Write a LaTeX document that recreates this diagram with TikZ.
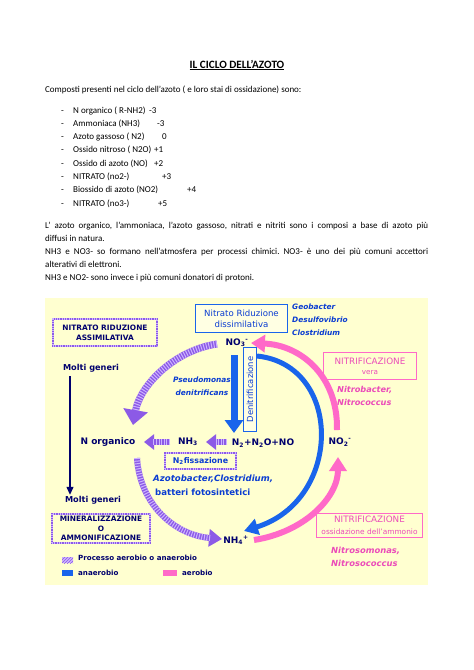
\documentclass[tikz,border=0pt]{standalone}
\usepackage{fontspec}
\setmainfont{Carlito}
\newfontfamily\dg{DejaVu Sans}
\usetikzlibrary{arrows.meta,patterns}
\frenchspacing
\definecolor{bgy}{RGB}{255,255,208}
\definecolor{purp}{RGB}{140,90,230}
\definecolor{lav}{RGB}{205,180,255}
\definecolor{barr}{RGB}{25,100,235}
\definecolor{btxt}{RGB}{10,60,210}
\definecolor{pinkA}{RGB}{255,105,200}
\definecolor{pinkT}{RGB}{235,75,185}
\definecolor{navyT}{RGB}{0,0,110}
\newcommand\fsz[2]{\fontsize{#1}{#2}\selectfont}
\tikzset{
  body/.style={font=\fsz{9}{13.3}, anchor=base west, inner sep=0pt},
  chem/.style={font=\dg\bfseries\fsz{9}{10}, text=navyT, inner sep=1pt},
  hbox/.style={draw=purp, line width=2.8pt, postaction={draw=lav, line width=2.8pt, dash pattern=on 0.9pt off 1.4pt},
    font=\dg\bfseries\fsz{7.4}{10}, text=navyT, align=center, inner sep=0pt},
  bbox/.style={draw=barr, line width=1.6pt, font=\dg\fsz{8.6}{11}, text=btxt, align=center, inner sep=0pt, fill=white!40!bgy},
  pbox/.style={draw=pinkA, line width=1.6pt, font=\dg\fsz{8.8}{10}, text=pinkT, align=center, inner sep=0pt},
  itl/.style={font=\dg\bfseries\itshape\fsz{7.4}{13}, align=left, inner sep=0pt},
  leg/.style={font=\dg\bfseries\fsz{7.1}{8}, text=navyT, anchor=west, inner sep=0pt},
  parr/.style={purp, line width=#1},
  pstripe/.style={lav, line width=#1, dash pattern=on 1pt off 1.6pt},
}
\begin{document}
\begin{tikzpicture}[x=1pt,y=-1pt]
\useasboundingbox (0,0) rectangle (474,670);
\fill[white] (0,0) rectangle (474,670);

% ---------- text part ----------
\node[font=\bfseries\fsz{11.2}{13}, inner sep=0pt] (title) at (237,65) {\underline{IL CICLO DELL’AZOTO}};
\node[body] (intro) at (45,92) {Composti presenti nel ciclo dell’azoto ( e loro stai di ossidazione) sono:};

\foreach \i/\t/\vx/\v in {0/N organico ( R-NH2)/149/-3, 1/Ammoniaca (NH3)/157/-3, 2/Azoto gassoso ( N2)/162/0,
  3/Ossido nitroso ( N2O)/154/+1, 4/Ossido di azoto (NO)/154/+2, 5/NITRATO (no2-)/162/+3,
  6/Biossido di azoto (NO2)/187/+4, 7/NITRATO (no3-)/158/+5}{
  \node[body] (d\i) at (61,113+13.3*\i) {-};
  \node[body] (t\i) at (73,113+13.3*\i) {\t};
  \node[body] (v\i) at (\vx,113+13.3*\i) {\v};
}

\node[body] (p1) at (45,228) {\makebox[383pt][s]{L’ azoto organico, l’ammoniaca, l’azoto gassoso, nitrati e nitriti sono i composi a base di azoto più}};
\node[body] (p2) at (45,241.2) {diffusi in natura.};
\node[body] (p3) at (45,254.4) {\makebox[383pt][s]{NH3 e NO3- so formano nell’atmosfera per processi chimici. NO3- è uno dei più comuni accettori}};
\node[body] (p4) at (45,267.6) {alterativi di elettroni.};
\node[body] (p5) at (45,280.8) {NH3 e NO2- sono invece i più comuni donatori di protoni.};

% ---------- diagram ----------
\fill[bgy] (45,298) rectangle (428,585);

% boxes
\node[hbox, minimum width=104pt, minimum height=27pt] (assim) at (105,332.5) {NITRATO RIDUZIONE\\ASSIMILATIVA};
\node[hbox, minimum width=98pt, minimum height=29pt, font=\dg\bfseries\fsz{7.4}{9.4}] (miner) at (101,528.5) {MINERALIZZAZIONE\\O\\AMMONIFICAZIONE};
\node[hbox, minimum width=71pt, minimum height=16pt, font=\dg\bfseries\fsz{7.9}{9}, text=btxt] (nfix) at (200.5,461) {N\textsubscript{2}fissazione};
\node[bbox, minimum width=92pt, minimum height=28pt] (dissim) at (241.5,318.5) {Nitrato Riduzione\\dissimilativa};
\node[bbox, minimum width=84pt, minimum height=13pt, rotate=90, font=\dg\fsz{8.4}{9}] (denit) at (250,389.5) {Denitrificazione};
\node[pbox, minimum width=93pt, minimum height=27pt] (nitvera) at (370,366) {NITRIFICAZIONE\\{\fsz{7.2}{8}vera}};
\node[pbox, minimum width=106pt, minimum height=24pt, font=\dg\fsz{7.4}{11.5}] (nitamm) at (369.5,525.5) {{\fsz{8.8}{10}NITRIFICAZIONE}\\ossidazione dell’ammonio};

% chemical labels
\node[chem] (no3) at (237,343) {NO\textsubscript{3}\textsuperscript{-}};
\node[chem] (norg) at (108,442) {N organico};
\node[chem] (nh3) at (188,442) {NH\textsubscript{3}};
\node[chem] (n2mix) at (263,443) {N\textsubscript{2}+N\textsubscript{2}O+NO};
\node[chem] (no2) at (340,442) {NO\textsubscript{2}\textsuperscript{-}};
\node[chem] (nh4) at (236,540) {NH\textsubscript{4}\textsuperscript{+}};
\node[chem, font=\dg\bfseries\fsz{8.2}{9}] (molti1) at (91,368) {Molti generi};
\node[chem, font=\dg\bfseries\fsz{8.2}{9}] (molti2) at (93,500) {Molti generi};

% italic labels
\node[itl, text=btxt, align=center] (pseudo) at (202,386.5) {Pseudomonas\\denitrificans};
\node[itl, text=btxt, anchor=west] (geo) at (292,319.5) {Geobacter\\Desulfovibrio\\Clostridium};
\node[itl, text=btxt, anchor=west, font=\dg\bfseries\itshape\fsz{8.6}{10}] (azb) at (153,479) {Azotobacter,Clostridium,};
\node[itl, text=btxt, anchor=west, font=\dg\bfseries\fsz{8.6}{10}] (batt) at (155,492) {batteri fotosintetici};
\node[itl, text=pinkT, anchor=west, font=\dg\bfseries\itshape\fsz{8.2}{13}] (nitrob) at (337,395.5) {Nitrobacter,\\Nitrococcus};
\node[itl, text=pinkT, anchor=west, font=\dg\bfseries\itshape\fsz{8.4}{13}] (nitros) at (331,556.5) {Nitrosomonas,\\Nitrosococcus};

% coordinates for connector ends
\coordinate (v1) at (70,376);
\coordinate (bv1) at (234,355);
\coordinate (bv2) at (234,433);
\coordinate (b1) at (257,356);
\coordinate (b2) at (244,531);
\coordinate (pk1) at (337,430);
\coordinate (pk2) at (251,343);
\coordinate (pk3) at (254,540);
\coordinate (pk4) at (338,457);
\coordinate (q1) at (217,344);
\coordinate (q2) at (133,425);
\coordinate (q3) at (137,458);
\coordinate (q4) at (222,539);
\coordinate (h1) at (170,442);
\coordinate (h2) at (144,442);
\coordinate (h3) at (227,442);
\coordinate (h4) at (206,442);

% navy line
\draw[navyT, line width=1.3pt, -{Triangle[length=8pt,width=7pt]}] (v1) -- (v1 |- molti2.north);

% blue arrows
\draw[barr, line width=7pt, -{Triangle[length=13pt,width=18pt]}] (bv1) -- (bv2);
\draw[barr, line width=5pt, -{Triangle[length=14pt,width=16pt]}] (b1) .. controls (343,365) and (343,500) .. (b2);

% pink arrows
\draw[pinkA, line width=6pt, -{Triangle[length=14pt,width=17pt]}] (pk1) .. controls (338,375) and (300,345) .. (pk2);
\draw[pinkA, line width=6pt, -{Triangle[length=14pt,width=17pt]}] (pk3) .. controls (305,532) and (338,497) .. (pk4);

% purple hatched arrows
\draw[parr=7pt, -{Triangle[length=15pt,width=24pt]}] (q1) .. controls (175,350) and (140,385) .. (q2);
\draw[pstripe=7pt, shorten >=14pt] (q1) .. controls (175,350) and (140,385) .. (q2);
\draw[parr=6pt, -{Triangle[length=13pt,width=17pt]}] (q3) .. controls (140,505) and (175,535) .. (q4);
\draw[pstripe=6pt, shorten >=12pt] (q3) .. controls (140,505) and (175,535) .. (q4);
\draw[parr=6pt, -{Triangle[length=10pt,width=15pt]}] (h1) -- (h2);
\draw[pstripe=6pt, shorten >=9pt] (h1) -- (h2);
\draw[parr=6pt, -{Triangle[length=10pt,width=15pt]}] (h3) -- (h4);
\draw[pstripe=6pt, shorten >=9pt] (h3) -- (h4);

% legend
\fill[lav] (62,557) rectangle (73,563);
\fill[pattern=north east lines, pattern color=purp] (62,557) rectangle (73,563);
\node[leg] (l1) at (78,557.5) {Processo aerobio o anaerobio};
\fill[barr] (62,570) rectangle (73,576);
\node[leg] (l2) at (78,573) {anaerobio};
\fill[pinkA] (163,570) rectangle (177,576);
\node[leg] (l3) at (182,573) {aerobio};
\end{tikzpicture}
\end{document}
